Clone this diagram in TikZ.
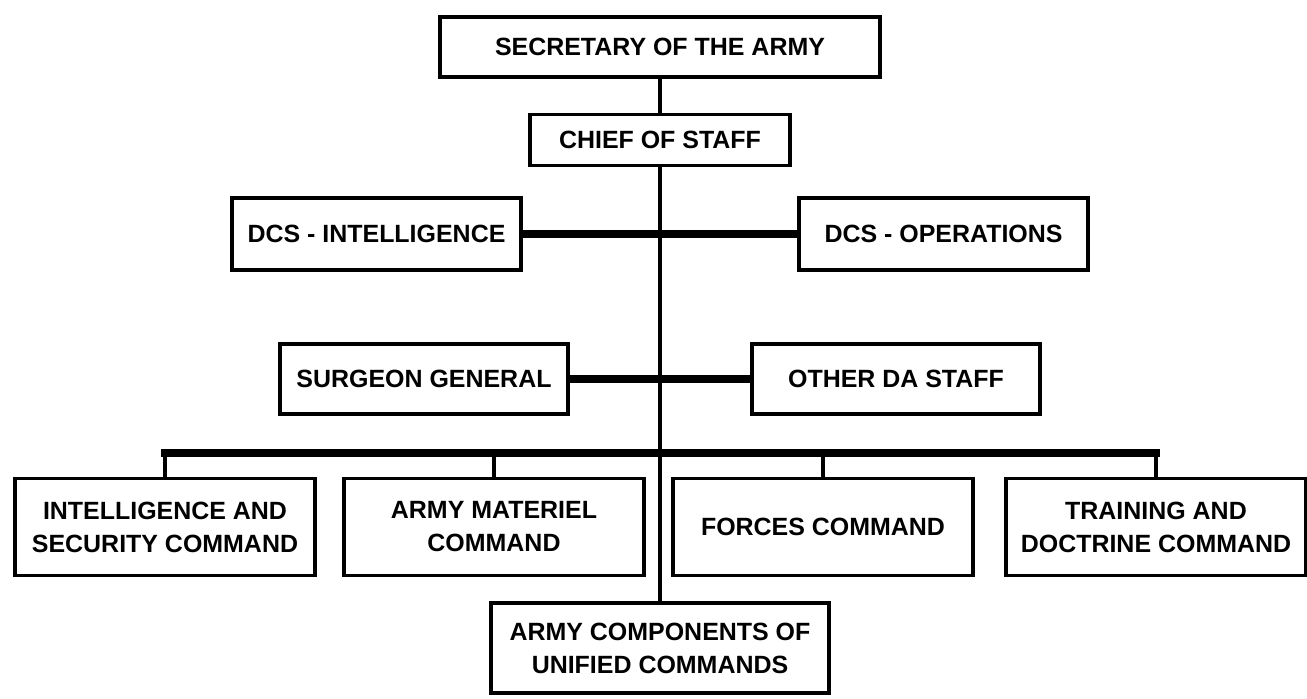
\documentclass[tikz,border=0pt]{standalone}
\usepackage{fontspec}
\setmainfont{Liberation Sans}
\usepackage{tikz}

\begin{document}
\begin{tikzpicture}[box/.style={rectangle,draw,line width=2pt,align=center,inner sep=0pt,
		font=\bfseries\fontsize{14.2}{18.8}\selectfont},
	link/.style={line width=2pt},
	bar/.style={line width=4.3pt,line cap=rect}]
	\useasboundingbox (0,0) rectangle (26.14,13.96);
	\node[box,minimum width=8.8cm,minimum height=1.2cm] (SA) at (13.2,13.02) {SECRETARY OF THE ARMY};
	\node[box,minimum width=5.2cm,minimum height=1.02cm] (CS) at (13.2,11.16) {CHIEF OF STAFF};
	\node[box,minimum width=5.78cm,minimum height=1.44cm] (DI) at (7.53,9.28) {DCS - INTELLIGENCE};
	\node[box,minimum width=5.78cm,minimum height=1.44cm] (DO) at (18.87,9.28) {DCS - OPERATIONS};
	\node[box,minimum width=5.76cm,minimum height=1.4cm] (SG) at (8.48,6.38) {SURGEON GENERAL};
	\node[box,minimum width=5.76cm,minimum height=1.4cm] (OS) at (17.92,6.38) {OTHER DA STAFF};
	\node[box,minimum width=6cm,minimum height=1.94cm] (IS) at (3.3,3.42) {INTELLIGENCE AND\\SECURITY COMMAND};
	\node[box,minimum width=6cm,minimum height=1.94cm] (AM) at (9.88,3.42) {ARMY MATERIEL\\COMMAND};
	\node[box,minimum width=6cm,minimum height=1.94cm] (FC) at (16.46,3.42) {FORCES COMMAND};
	\node[box,minimum width=6cm,minimum height=1.94cm] (TD) at (23.12,3.42) {TRAINING AND\\DOCTRINE COMMAND};
	\node[box,minimum width=6.76cm,minimum height=1.8cm] (AC) at (13.2,1.0) {ARMY COMPONENTS OF\\UNIFIED COMMANDS};
	\coordinate (BL) at (3.3,4.9);
	\coordinate (BR) at (23.12,4.9);

	\draw[link] (SA) -- (CS);
	\draw[link] (CS) -- (AC);
	\draw[bar] (DI) -- (DO);
	\draw[bar] (SG) -- (OS);
	\draw[bar] (BL) -- (BR);
	\draw[link] (BL) -- (IS);
	\draw[link] (AM |- BL) -- (AM);
	\draw[link] (FC |- BL) -- (FC);
	\draw[link] (BR) -- (TD);
\end{tikzpicture}
\end{document}
